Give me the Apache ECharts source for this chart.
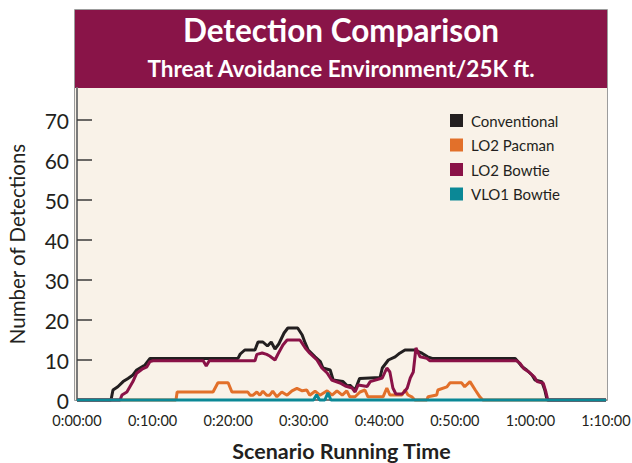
<!DOCTYPE html>
<html>
<head>
<meta charset="utf-8">
<title>Detection Comparison</title>
<script src="https://cdn.jsdelivr.net/npm/echarts@6/dist/echarts.min.js"></script>
<style>
  html, body { margin: 0; padding: 0; background: #ffffff; }
  #chart { width: 632px; height: 463px; }
</style>
</head>
<body>
<div id="chart"></div>
<script>
// Scenario time in minutes, detections count at that time
const conventional = [
  [0, 0], [4.5, 0], [4.76, 2.5], [5.4, 3.3], [6.1, 4.6], [6.75, 5.4], [7.4, 6.25],
  [7.9, 7.5], [9.0, 8.75], [9.66, 10.4], [21.3, 10.4], [21.6, 11.5], [22.2, 12.5],
  [23.55, 12.5], [23.95, 14.5], [24.6, 14.5], [25.2, 13.5], [25.7, 14.5], [26.2, 12.75],
  [26.7, 14], [27.4, 16.75], [27.9, 18], [29.2, 18], [29.8, 16.25], [30.2, 14.2],
  [30.6, 12.5], [31.5, 10.8], [32.2, 9.6], [32.55, 8], [33.5, 7.5], [33.9, 5],
  [35.2, 4.6], [35.9, 3.3], [36.1, 3.75], [36.8, 2.5], [37.4, 5.4], [40.1, 5.6],
  [40.4, 8], [41.2, 10], [42.1, 10.8], [42.7, 11.7], [43.4, 12.5], [44.7, 12.5],
  [45.65, 11.7], [46.4, 10.8], [47.0, 10.4], [57.95, 10.4], [58.35, 9.6], [58.9, 8.3],
  [59.5, 7.5], [60.2, 6.25], [60.6, 5], [61.5, 4.6], [61.9, 2.5], [62.2, 0], [70, 0]
];

const lo2Pacman = [
  [0, 0], [13.1, 0], [13.25, 2], [18.0, 2], [18.65, 4.3], [20.0, 4.3], [20.5, 2],
  [22.6, 2], [22.9, 1.2], [23.3, 1.2], [23.8, 2], [24.2, 1.2], [24.6, 2.2], [25.1, 1.2],
  [25.5, 1.2], [25.9, 2.2], [26.45, 0.8], [27.1, 2], [27.8, 1.2], [28.45, 2.3],
  [29.1, 2.9], [29.8, 2.3], [30.4, 2.5], [30.8, 1.2], [31.5, 2.2], [32.15, 1.2],
  [33.1, 2.3], [33.75, 1.2], [34.4, 2.3], [35.1, 1.2], [35.7, 2.3], [36.1, 0.8],
  [36.8, 0.8], [37.45, 2], [38.1, 2.5], [38.5, 0.8], [40.5, 0.8], [41.0, 3],
  [41.4, 1.25], [43.0, 1.25], [43.4, 2.5], [43.8, 1.25], [44.3, 0.8], [44.7, 0],
  [46.3, 0], [46.45, 0.8], [47.6, 1.25], [47.75, 2.5], [48.95, 3.3], [49.35, 4.3],
  [50.9, 4.3], [51.3, 3.3], [52.0, 4.6], [52.7, 2.5], [53.3, 0.8], [53.7, 0], [70, 0]
];

const lo2Bowtie = [
  [0, 0], [5.7, 0], [5.95, 1.25], [6.6, 2], [7.0, 3.3], [7.4, 4.6], [7.9, 6.7],
  [8.6, 7.7], [9.25, 8.3], [9.66, 9.6], [10.05, 9.8], [16.7, 9.8], [17.1, 8.5],
  [17.5, 9.8], [23.55, 9.8], [23.8, 11.4], [24.5, 11.75], [25.1, 11.4], [25.5, 11],
  [26.2, 10], [26.6, 11.5], [27.25, 13.75], [27.8, 15], [29.5, 15], [30.2, 13],
  [30.8, 11.7], [31.75, 10], [32.4, 8], [33.1, 6.75], [33.7, 5], [34.8, 4.25],
  [35.5, 3.5], [36.4, 3], [36.8, 2], [37.2, 3.75], [38.4, 3.4], [38.8, 4.6],
  [40.4, 5.5], [41.0, 8], [41.4, 7], [41.8, 3], [42.2, 1.5], [43.0, 1.5], [43.3, 2],
  [43.7, 3], [44.1, 5.5], [44.5, 7], [44.85, 13], [45.1, 12], [45.4, 10.8],
  [46.3, 10.4], [46.7, 9.8], [58.2, 9.8], [58.6, 9.2], [59.15, 7.8], [59.8, 7],
  [60.5, 5.8], [60.9, 4.6], [61.7, 4.2], [62.05, 2], [62.3, 0], [70, 0]
];

const vlo1Bowtie = [
  [0, 0], [31.3, 0], [31.7, 1.3], [32.1, 0], [32.8, 0], [33.2, 1.8], [33.6, 0], [70, 0]
];

const seriesNames = ['Conventional', 'LO2 Pacman', 'LO2 Bowtie', 'VLO1 Bowtie'];
const seriesColors = ['#231f20', '#e2702a', '#8a1247', '#0b8896'];
const seriesData = [conventional, lo2Pacman, lo2Bowtie, vlo1Bowtie];

const yTicks = [0, 10, 20, 30, 40, 50, 60, 70];
const xTicks = [0, 10, 20, 30, 40, 50, 60, 70];

const chartTitle = 'Detection Comparison';
const chartSubtitle = 'Threat Avoidance Environment/25K ft.';
const xAxisTitle = 'Scenario Running Time';
const yAxisTitle = 'Number of Detections';

function minutesToClock(m) {
  const h = Math.floor(m / 60);
  const mm = Math.round(m % 60);
  return h + ':' + String(mm).padStart(2, '0') + ':00';
}

const FONT = 'Lato, "Open Sans", sans-serif';
const INK = '#231f20';

const chart = echarts.init(document.getElementById('chart'), null, { renderer: 'svg' });

chart.setOption({
  animation: false,
  backgroundColor: '#ffffff',
  textStyle: { fontFamily: FONT },
  graphic: [
    {
      type: 'rect', z: -20, silent: true,
      shape: { x: 74.5, y: 9.5, width: 533, height: 391 },
      style: { fill: '#f9f2e8', stroke: '#9c9c9c', lineWidth: 1 }
    },
    {
      type: 'rect', z: -10, silent: true,
      shape: { x: 75, y: 10, width: 532, height: 78 },
      style: { fill: '#891448' }
    },
    {
      type: 'text', z: 10, silent: true,
      x: 341, y: 30,
      style: {
        text: chartTitle, fill: '#ffffff', font: 'bold 31.5px ' + FONT,
        textAlign: 'center', textVerticalAlign: 'middle'
      }
    },
    {
      type: 'text', z: 10, silent: true,
      x: 341, y: 68,
      style: {
        text: chartSubtitle, fill: '#ffffff', font: 'bold 22.5px ' + FONT,
        textAlign: 'center', textVerticalAlign: 'middle'
      }
    }
  ],
  legend: {
    orient: 'vertical',
    left: 445, top: 108,
    itemWidth: 13, itemHeight: 13, itemGap: 9.5,
    icon: 'rect',
    data: seriesNames,
    textStyle: { color: INK, fontSize: 15, fontFamily: FONT, lineHeight: 13, padding: [0, 0, 0, 3] }
  },
  grid: { left: 77, right: 26, top: 88, bottom: 63, containLabel: false, outerBoundsMode: 'none' },
  xAxis: {
    type: 'value', min: 0, max: 70, interval: 10,
    name: xAxisTitle, nameLocation: 'middle', nameGap: 40,
    nameTextStyle: { color: INK, fontSize: 21.5, lineHeight: 21, fontWeight: 'bold', fontFamily: FONT },
    axisLine: { show: true, onZero: false, lineStyle: { color: '#7a7a7a', width: 2 } },
    axisTick: { show: false },
    splitLine: { show: false },
    axisLabel: {
      color: INK, fontSize: 14.5, margin: 13, fontFamily: FONT,
      customValues: xTicks,
      formatter: v => minutesToClock(v)
    }
  },
  yAxis: {
    type: 'value', min: 0, max: 78,
    name: yAxisTitle, nameLocation: 'middle', nameGap: 50, nameRotate: 90,
    nameTextStyle: { color: INK, fontSize: 20.5, fontFamily: FONT },
    axisLine: { show: true, lineStyle: { color: '#7a7a7a', width: 2 } },
    axisTick: {
      show: true, inside: true, length: 15, customValues: yTicks.slice(1),
      lineStyle: { color: '#3a3a3a', width: 1.5 }
    },
    splitLine: { show: false },
    axisLabel: {
      color: INK, fontSize: 21, margin: 8, fontFamily: FONT,
      customValues: yTicks
    }
  },
  series: seriesData.map((d, i) => ({
    name: seriesNames[i],
    type: 'line',
    data: d,
    showSymbol: false,
    symbol: 'none',
    clip: false,
    color: seriesColors[i],
    lineStyle: { color: seriesColors[i], width: 3 },
    z: 2 + i
  }))
});
</script>
</body>
</html>
